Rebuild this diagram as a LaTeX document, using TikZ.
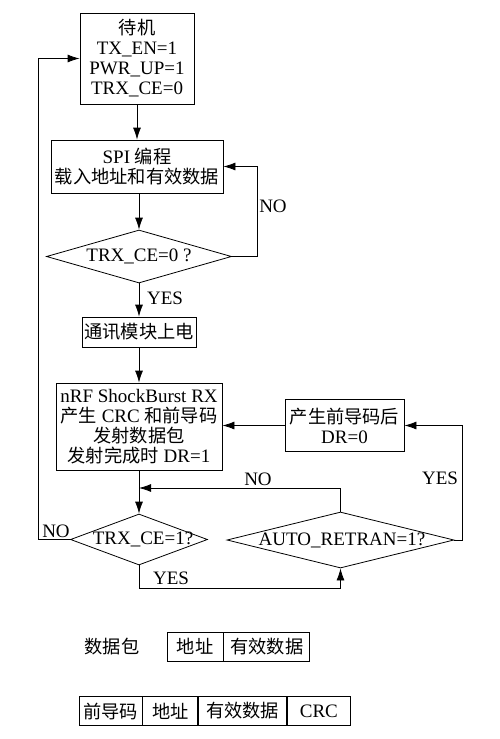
\documentclass[tikz,border=0pt]{standalone}
\usepackage{fontspec}
\setmainfont{Liberation Serif}
\newfontfamily\cjk{Noto Sans CJK SC}[Scale=0.96]
\usetikzlibrary{shapes.geometric,arrows.meta}
\newcommand\myfs{\fontsize{19}{20}\selectfont}
\tikzset{
  box/.style={draw,line width=0.8pt,inner sep=0pt,align=center,font=\myfs},
  dia/.style={draw,diamond,inner sep=0pt,line width=0.8pt},
  arr/.style={-{Latex[length=12pt,width=8pt]},line width=0.8pt},
  ln/.style={line width=0.8pt},
  lbl/.style={font=\myfs,inner sep=0pt},
  cell/.style={draw,line width=0.8pt,inner sep=0pt,font=\myfs,minimum height=29pt}
}
\begin{document}
\begin{tikzpicture}[x=1pt,y=-1pt]
\useasboundingbox (0,0) rectangle (500,739);
% nodes
\node[box,minimum width=114pt,minimum height=91pt] (standby) at (137,58.5)
  {{\cjk 待机}\\TX\_EN=1\\PWR\_UP=1\\TRX\_CE=0};
\node[box,minimum width=172pt,minimum height=53pt] (spi) at (137,166.5)
  {SPI {\cjk 编程}\\{\cjk 载入地址和有效数据}};
\node[dia,minimum width=185pt,minimum height=53pt] (d1) at (139,256.5) {};
\node[lbl] at (d1) {TRX\_CE=0 ?};
\node[box,minimum width=114pt,minimum height=30pt] (power) at (139,332)
  {{\cjk 通讯模块上电}};
\node[box,minimum width=166pt,minimum height=87pt] (nrf) at (139,426.5)
  {nRF ShockBurst RX\\{\cjk 产生} CRC {\cjk 和前导码}\\{\cjk 发射数据包}\\{\cjk 发射完成时} DR=1};
\node[box,minimum width=119pt,minimum height=52pt] (dr) at (344.5,425.5)
  {{\cjk 产生前导码后}\\DR=0};
\node[dia,minimum width=137pt,minimum height=51pt] (d2) at (139,539.5) {};
\node[lbl] at (143,539.5) {TRX\_CE=1?};
\node[dia,minimum width=227pt,minimum height=56pt] (d3) at (340.5,540) {};
\node[lbl] at (342,540) {AUTO\_RETRAN=1?};
\coordinate (j1) at (139,488);
% connectors
\draw[arr] (standby.south) -- (spi.north);
\draw[arr] (spi.south) -- (spi.south -| d1.north) -- (d1.north);
\draw[arr] (d1.east) -- ++(25,0) |- (spi.east);
\draw[arr] (d1.south) -- (power.north);
\draw[arr] (power.south) -- (nrf.north);
\draw[arr] (dr.west) -- (dr.west -| nrf.east);
\draw[arr] (d3.east) -- ++(8,0) |- (dr.east);
\draw[arr] (d3.north) |- (j1);
\draw[arr] (nrf.south) -- (d2.north);
\draw[arr] (d2.west) -- ++(-32,0) |- (standby.west);
\draw[arr] (d2.south) -- ++(0,23) -| (d3.south);
% labels
\node[lbl] at (273,206) {NO};
\node[lbl] at (165,298) {YES};
\node[lbl] at (440,478) {YES};
\node[lbl] at (258,479) {NO};
\node[lbl] at (56,531) {NO};
\node[lbl] at (171,578) {YES};
% packets
\node[lbl] at (112,647) {\cjk 数据包};
\node[cell,minimum width=56pt] (a1) at (195,646.5) {\cjk 地址};
\node[cell,minimum width=86pt,anchor=west] (a2) at (a1.east) {\cjk 有效数据};
\node[cell,minimum width=63pt] (b1) at (110.5,711) {\cjk 前导码};
\node[cell,minimum width=55pt,anchor=west] (b2) at (b1.east) {\cjk 地址};
\node[cell,minimum width=88pt,anchor=west] (b3) at (b2.east) {\cjk 有效数据};
\node[cell,minimum width=63pt,anchor=west] (b4) at (b3.east) {CRC};
\end{tikzpicture}
\end{document}
